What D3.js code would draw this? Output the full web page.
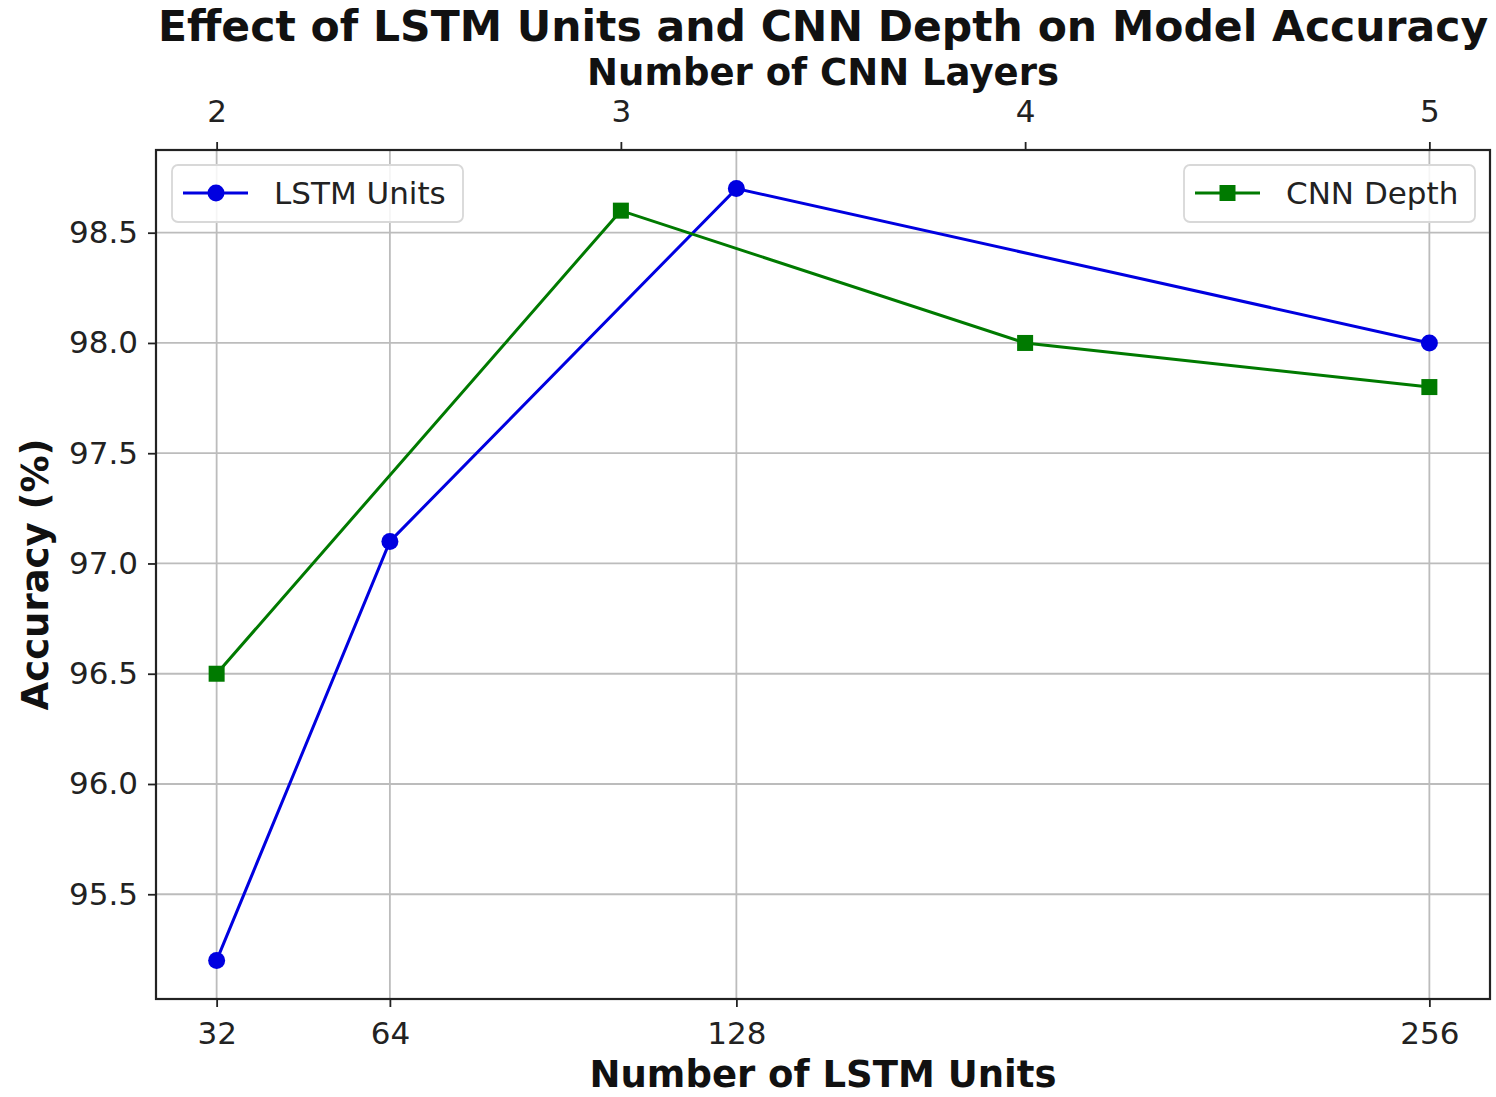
<!DOCTYPE html>
<html>
<head>
<meta charset="utf-8">
<script src="https://cdn.jsdelivr.net/npm/d3@7"></script>
<style>
  body { margin: 0; background: #fff; }
  text { font-family: "DejaVu Sans", sans-serif; fill: #111; }
  .axis path, .axis line { stroke: #222; }
  .axis text { font-size: 31px; fill: #222; }
</style>
</head>
<body>
<div id="chart-area"></div>
<script>
// data
var lstmUnits = [32, 64, 128, 256];
var lstmAccuracy = [95.2, 97.1, 98.7, 98.0];
var cnnLayers = [2, 3, 4, 5];
var cnnAccuracy = [96.5, 98.6, 98.0, 97.8];
var yTicks = [95.5, 96.0, 96.5, 97.0, 97.5, 98.0, 98.5];

var W = 1496, H = 1097;
var margin = { left: 156, right: 6, top: 150, bottom: 98 },
    width = W - margin.left - margin.right,
    height = H - margin.top - margin.bottom;

var svg = d3.select("#chart-area").append("svg")
    .attr("width", W)
    .attr("height", H);

var g = svg.append("g")
    .attr("transform", "translate(" + margin.left + "," + margin.top + ")");

// matplotlib-like 5% margins
function pad(ext) { var d = (ext[1] - ext[0]) * 0.05; return [ext[0] - d, ext[1] + d]; }

var x = d3.scaleLinear().domain(pad(d3.extent(lstmUnits))).range([0, width]);
var xTop = d3.scaleLinear().domain(pad(d3.extent(cnnLayers))).range([0, width]);
var y = d3.scaleLinear()
    .domain(pad([d3.min(lstmAccuracy.concat(cnnAccuracy)), d3.max(lstmAccuracy.concat(cnnAccuracy))]))
    .range([height, 0]);

// grid
g.append("g").selectAll("line").data(lstmUnits).enter().append("line")
    .attr("x1", function(d) { return x(d); }).attr("x2", function(d) { return x(d); })
    .attr("y1", 0).attr("y2", height)
    .attr("stroke", "#bcbcbc").attr("stroke-width", 1.8);
g.append("g").selectAll("line").data(yTicks).enter().append("line")
    .attr("y1", function(d) { return y(d); }).attr("y2", function(d) { return y(d); })
    .attr("x1", 0).attr("x2", width)
    .attr("stroke", "#bcbcbc").attr("stroke-width", 1.8);

// axes
g.append("g").attr("class", "axis")
    .attr("transform", "translate(0," + height + ")")
    .call(d3.axisBottom(x).tickValues(lstmUnits).tickSize(8).tickPadding(15).tickSizeOuter(0));
g.append("g").attr("class", "axis")
    .call(d3.axisTop(xTop).tickValues(cnnLayers).tickFormat(d3.format("d"))
        .tickSize(8).tickPadding(20).tickSizeOuter(0));
g.append("g").attr("class", "axis")
    .call(d3.axisLeft(y).tickValues(yTicks).tickFormat(d3.format(".1f")).tickSize(8).tickPadding(10).tickSizeOuter(0));

g.selectAll(".axis line").attr("stroke-width", 1.8);
g.selectAll(".axis path").remove();

// frame
g.append("rect")
    .attr("width", width).attr("height", height)
    .attr("fill", "none").attr("stroke", "#222").attr("stroke-width", 2.2);

// lines
var lineLstm = d3.line()
    .x(function(d, i) { return x(lstmUnits[i]); })
    .y(function(d) { return y(d); });
var lineCnn = d3.line()
    .x(function(d, i) { return xTop(cnnLayers[i]); })
    .y(function(d) { return y(d); });

var blue = "#0000e0", green = "#007a00";

g.append("path").datum(lstmAccuracy)
    .attr("d", lineLstm).attr("fill", "none")
    .attr("stroke", blue).attr("stroke-width", 3);
g.selectAll(".dot").data(lstmAccuracy).enter().append("circle")
    .attr("class", "dot")
    .attr("cx", function(d, i) { return x(lstmUnits[i]); })
    .attr("cy", function(d) { return y(d); })
    .attr("r", 8.5).attr("fill", blue);

g.append("path").datum(cnnAccuracy)
    .attr("d", lineCnn).attr("fill", "none")
    .attr("stroke", green).attr("stroke-width", 3);
g.selectAll(".sq").data(cnnAccuracy).enter().append("rect")
    .attr("class", "sq")
    .attr("x", function(d, i) { return xTop(cnnLayers[i]) - 8; })
    .attr("y", function(d) { return y(d) - 8; })
    .attr("width", 16).attr("height", 16).attr("fill", green);

// legends
function legend(x0, label, color, square) {
    var lg = svg.append("g").attr("transform", "translate(" + x0 + ",165)");
    lg.append("rect")
        .attr("width", 291).attr("height", 57).attr("rx", 6)
        .attr("fill", "#fff").attr("fill-opacity", 0.85)
        .attr("stroke", "#d8d8d8").attr("stroke-width", 1.8);
    lg.append("line")
        .attr("x1", 11).attr("x2", 76).attr("y1", 28).attr("y2", 28)
        .attr("stroke", color).attr("stroke-width", 3);
    if (square) {
        lg.append("rect").attr("x", 35.5).attr("y", 20).attr("width", 16).attr("height", 16).attr("fill", color);
    } else {
        lg.append("circle").attr("cx", 44).attr("cy", 28).attr("r", 8.5).attr("fill", color);
    }
    lg.append("text")
        .attr("x", 102).attr("y", 39)
        .attr("font-size", "31px")
        .style("fill", "#222")
        .text(label);
}
legend(172, "LSTM Units", blue, false);
legend(1184, "CNN Depth", green, true);

// titles
var cx = margin.left + width / 2;
svg.append("text")
    .attr("x", cx).attr("y", 41)
    .attr("text-anchor", "middle")
    .attr("font-size", "42.5px").attr("font-weight", "bold")
    .text("Effect of LSTM Units and CNN Depth on Model Accuracy");
svg.append("text")
    .attr("x", cx).attr("y", 85)
    .attr("text-anchor", "middle")
    .attr("font-size", "37px").attr("font-weight", "bold")
    .text("Number of CNN Layers");
svg.append("text")
    .attr("x", cx).attr("y", 1087)
    .attr("text-anchor", "middle")
    .attr("font-size", "37px").attr("font-weight", "bold")
    .text("Number of LSTM Units");
svg.append("text")
    .attr("transform", "translate(48," + (margin.top + height / 2) + ") rotate(-90)")
    .attr("text-anchor", "middle")
    .attr("font-size", "37px").attr("font-weight", "bold")
    .text("Accuracy (%)");
</script>
</body>
</html>
